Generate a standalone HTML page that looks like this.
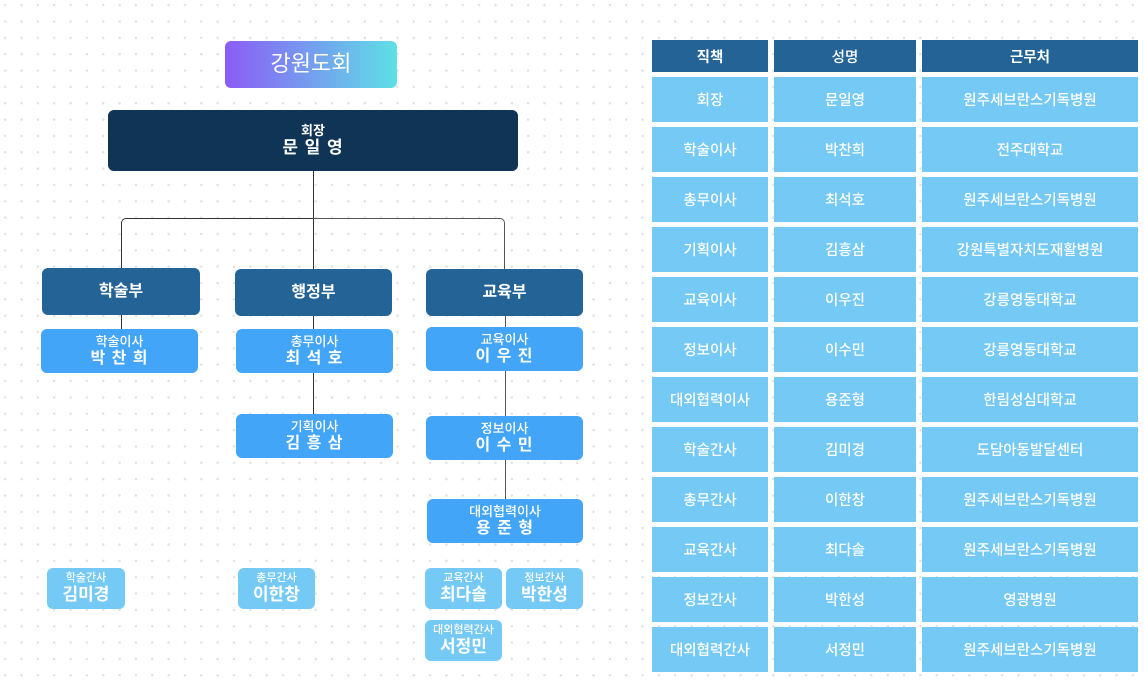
<!DOCTYPE html>
<html><head><meta charset="utf-8"><style>
*{margin:0;padding:0;box-sizing:border-box}
body{width:1144px;height:682px;overflow:hidden;position:relative;background-color:#fff;
background-image:radial-gradient(circle,#e2e2e2 1.1px,transparent 1.4px);background-size:16.35px 16.35px;background-position:-3px -3px;
font-family:"Liberation Sans","Noto Sans CJK KR",sans-serif;color:#fff}
.b{position:absolute;display:flex;flex-direction:column;align-items:center;justify-content:center;text-align:center;border-radius:6px;line-height:1.2}
.pres{background:#0f3456}
.dep{background:#236396;font-weight:bold;font-size:16px}
.dir{background:#42a5f7;font-size:13px;font-weight:500}
.dir b{font-size:16px;letter-spacing:1px;font-weight:bold}
.st{background:#74c9f5;font-size:11px;font-weight:500}
.st b{font-size:17px;font-weight:bold}
.l{position:absolute;background:#333}
.c{position:absolute;display:flex;align-items:center;justify-content:center;font-size:14.5px;background:#74c9f5;font-weight:500}
.h{background:#236396;font-weight:bold}
</style></head><body>
<div class="b" style="left:225px;top:41px;width:172px;height:47px;background:linear-gradient(90deg,#8b5cf6,#5ee0e6);font-size:22px">강원도회</div>
<div class="b pres" style="left:108px;top:110px;width:410px;height:61px;font-weight:bold;font-size:13px">회장<span style="font-size:17px;letter-spacing:1px">문 일 영</span></div>
<div class="l" style="left:313px;top:171px;width:1px;height:98px"></div>
<div style="position:absolute;left:121px;top:218px;width:193px;height:52px;border:1px solid #333;border-right:none;border-bottom:none;border-radius:5px 0 0 0"></div>
<div style="position:absolute;left:313px;top:218px;width:192px;height:52px;border:1px solid #555;border-left:none;border-bottom:none;border-radius:0 5px 0 0"></div>
<div class="l" style="left:121px;top:314px;width:1px;height:16px"></div>
<div class="l" style="left:313px;top:315px;width:1px;height:100px"></div>
<div class="l" style="left:505px;top:315px;width:1px;height:185px;background:#555"></div>
<div class="b dep" style="left:42px;top:268px;width:158px;height:47px">학술부</div>
<div class="b dep" style="left:235px;top:269px;width:157px;height:47px">행정부</div>
<div class="b dep" style="left:426px;top:269px;width:157px;height:47px">교육부</div>
<div class="b dir" style="left:41px;top:329px;width:157px;height:44px">학술이사<b>박 찬 희</b></div>
<div class="b dir" style="left:236px;top:329px;width:157px;height:44px">총무이사<b>최 석 호</b></div>
<div class="b dir" style="left:426px;top:327px;width:157px;height:44px">교육이사<b>이 우 진</b></div>
<div class="b dir" style="left:236px;top:414px;width:157px;height:44px">기획이사<b>김 흥 삼</b></div>
<div class="b dir" style="left:426px;top:416px;width:157px;height:44px">정보이사<b>이 수 민</b></div>
<div class="b dir" style="left:427px;top:499px;width:156px;height:44px">대외협력이사<b>용 준 형</b></div>
<div class="b st" style="left:47px;top:568px;width:78px;height:41px">학술간사<b>김미경</b></div>
<div class="b st" style="left:238px;top:568px;width:77px;height:41px">총무간사<b>이한창</b></div>
<div class="b st" style="left:425px;top:568px;width:77px;height:41px">교육간사<b>최다솔</b></div>
<div class="b st" style="left:506px;top:568px;width:77px;height:41px">정보간사<b>박한성</b></div>
<div class="b st" style="left:425px;top:620px;width:77px;height:41px">대외협력간사<b>서정민</b></div>

<div class="c h" style="left:652px;top:40px;width:116px;height:32px">직책</div>
<div class="c h" style="left:774px;top:40px;width:142px;height:32px;font-weight:500">성명</div>
<div class="c h" style="left:922px;top:40px;width:216px;height:32px">근무처</div>

<div class="c" style="left:652px;top:77px;width:116px;height:45px">회장</div><div class="c" style="left:774px;top:77px;width:142px;height:45px">문일영</div><div class="c" style="left:922px;top:77px;width:216px;height:45px">원주세브란스기독병원</div>
<div class="c" style="left:652px;top:127px;width:116px;height:45px">학술이사</div><div class="c" style="left:774px;top:127px;width:142px;height:45px">박찬희</div><div class="c" style="left:922px;top:127px;width:216px;height:45px">전주대학교</div>
<div class="c" style="left:652px;top:177px;width:116px;height:45px">총무이사</div><div class="c" style="left:774px;top:177px;width:142px;height:45px">최석호</div><div class="c" style="left:922px;top:177px;width:216px;height:45px">원주세브란스기독병원</div>
<div class="c" style="left:652px;top:227px;width:116px;height:45px">기획이사</div><div class="c" style="left:774px;top:227px;width:142px;height:45px">김흥삼</div><div class="c" style="left:922px;top:227px;width:216px;height:45px">강원특별자치도재활병원</div>
<div class="c" style="left:652px;top:277px;width:116px;height:45px">교육이사</div><div class="c" style="left:774px;top:277px;width:142px;height:45px">이우진</div><div class="c" style="left:922px;top:277px;width:216px;height:45px">강릉영동대학교</div>
<div class="c" style="left:652px;top:327px;width:116px;height:45px">정보이사</div><div class="c" style="left:774px;top:327px;width:142px;height:45px">이수민</div><div class="c" style="left:922px;top:327px;width:216px;height:45px">강릉영동대학교</div>
<div class="c" style="left:652px;top:377px;width:116px;height:45px">대외협력이사</div><div class="c" style="left:774px;top:377px;width:142px;height:45px">용준형</div><div class="c" style="left:922px;top:377px;width:216px;height:45px">한림성심대학교</div>
<div class="c" style="left:652px;top:427px;width:116px;height:45px">학술간사</div><div class="c" style="left:774px;top:427px;width:142px;height:45px">김미경</div><div class="c" style="left:922px;top:427px;width:216px;height:45px">도담아동발달센터</div>
<div class="c" style="left:652px;top:477px;width:116px;height:45px">총무간사</div><div class="c" style="left:774px;top:477px;width:142px;height:45px">이한창</div><div class="c" style="left:922px;top:477px;width:216px;height:45px">원주세브란스기독병원</div>
<div class="c" style="left:652px;top:527px;width:116px;height:45px">교육간사</div><div class="c" style="left:774px;top:527px;width:142px;height:45px">최다솔</div><div class="c" style="left:922px;top:527px;width:216px;height:45px">원주세브란스기독병원</div>
<div class="c" style="left:652px;top:577px;width:116px;height:45px">정보간사</div><div class="c" style="left:774px;top:577px;width:142px;height:45px">박한성</div><div class="c" style="left:922px;top:577px;width:216px;height:45px">영광병원</div>
<div class="c" style="left:652px;top:627px;width:116px;height:45px">대외협력간사</div><div class="c" style="left:774px;top:627px;width:142px;height:45px">서정민</div><div class="c" style="left:922px;top:627px;width:216px;height:45px">원주세브란스기독병원</div>
</body></html>
